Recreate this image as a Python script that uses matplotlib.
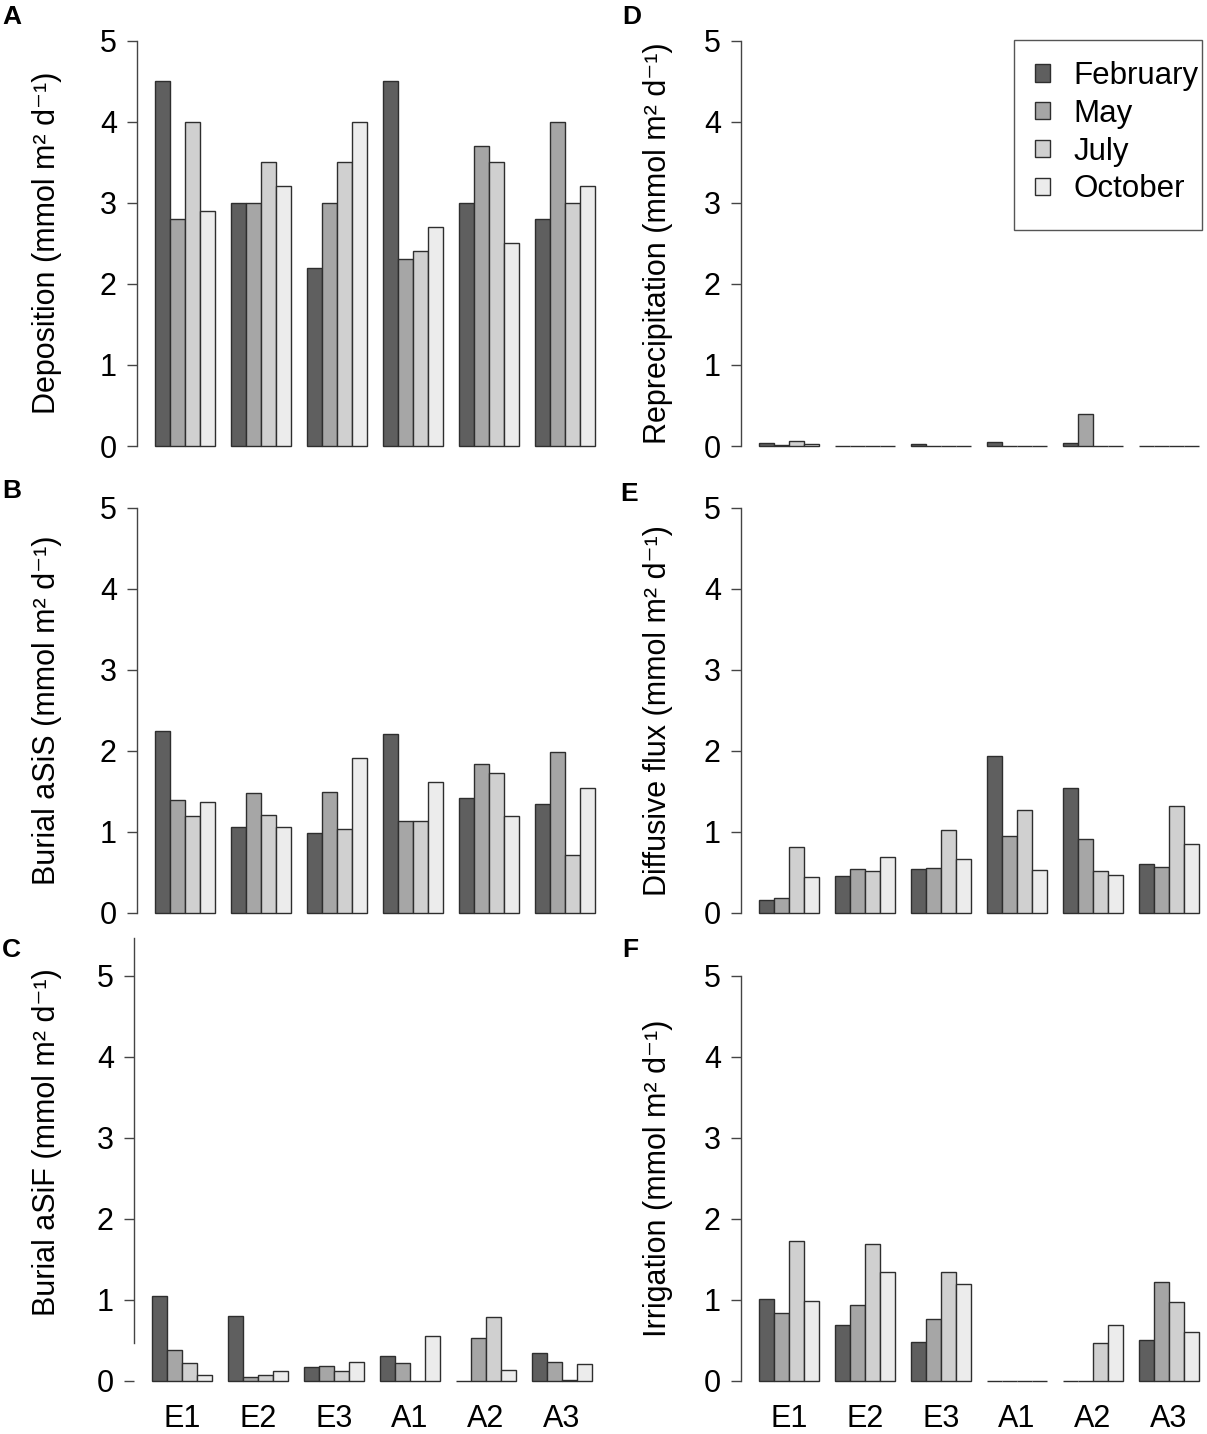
import matplotlib
matplotlib.use("Agg")
import matplotlib.pyplot as plt
from matplotlib.patches import Patch, Rectangle

plt.rcParams['font.family'] = ['Liberation Sans', 'DejaVu Sans']

sites = ["E1", "E2", "E3", "A1", "A2", "A3"]
months = ["February", "May", "July", "October"]
colors = ["#5f5f5f", "#a6a6a6", "#d0d0d0", "#ececec"]

# rows = sites, columns = months
deposition = [[4.5, 2.8, 4.0, 2.9],
              [3.0, 3.0, 3.5, 3.2],
              [2.2, 3.0, 3.5, 4.0],
              [4.5, 2.3, 2.4, 2.7],
              [3.0, 3.7, 3.5, 2.5],
              [2.8, 4.0, 3.0, 3.2]]
burial_asis = [[2.25, 1.39, 1.20, 1.37],
               [1.06, 1.48, 1.21, 1.06],
               [0.99, 1.49, 1.03, 1.91],
               [2.21, 1.14, 1.14, 1.62],
               [1.42, 1.84, 1.73, 1.20],
               [1.35, 1.99, 0.72, 1.54]]
burial_asif = [[1.05, 0.38, 0.22, 0.08],
               [0.80, 0.05, 0.08, 0.12],
               [0.17, 0.19, 0.12, 0.23],
               [0.31, 0.22, 0.0, 0.56],
               [0.0, 0.53, 0.79, 0.14],
               [0.35, 0.23, 0.01, 0.21]]
reprecipitation = [[0.033, 0.012, 0.06, 0.03],
                   [0.0, 0.0, 0.0, 0.0],
                   [0.02, 0.0, 0.0, 0.0],
                   [0.053, 0.0, 0.0, 0.0],
                   [0.04, 0.40, 0.0, 0.0],
                   [0.0, 0.0, 0.0, 0.0]]
diffusive = [[0.16, 0.18, 0.81, 0.44],
             [0.46, 0.54, 0.52, 0.69],
             [0.54, 0.56, 1.02, 0.67],
             [1.94, 0.95, 1.27, 0.53],
             [1.54, 0.91, 0.52, 0.47],
             [0.60, 0.57, 1.32, 0.85]]
irrigation = [[1.01, 0.84, 1.73, 0.99],
              [0.69, 0.94, 1.69, 1.35],
              [0.48, 0.76, 1.35, 1.19],
              [0.0, 0.0, 0.0, 0.0],
              [0.0, 0.0, 0.47, 0.69],
              [0.51, 1.22, 0.97, 0.61]]

W, H = 1207, 1434
fig = plt.figure(figsize=(W / 100, H / 100), dpi=100)

unit = "(mmol m² d⁻¹)"
SCALE = 81.1
AXW = 476


def make_ax(left_px, zero_px, ymax=5.2):
    ymin = -0.2
    top_px = zero_px - ymax * SCALE
    bot_px = zero_px - ymin * SCALE
    ax = fig.add_axes([left_px / W, 1 - bot_px / H, AXW / W, (bot_px - top_px) / H])
    ax.set_ylim(ymin, ymax)
    ax.set_xlim(-0.16, 31.16)
    return ax


def draw_panel(ax, data, ylabel, letter, pos, bottom=False, spine=(0, 5),
               label_x=-0.158, label_y=2.5):
    for j in range(len(months)):
        xs = [1 + 5 * g + j for g in range(len(sites))]
        hs = [row[j] for row in data]
        ax.bar(xs, hs, width=1, align='edge', color=colors[j],
               edgecolor='#2e2e2e', linewidth=1.0, label=months[j])
    for s in ['top', 'right', 'bottom']:
        ax.spines[s].set_visible(False)
    ax.spines['left'].set_bounds(*spine)
    ax.spines['left'].set_color('#444444')
    ax.spines['left'].set_linewidth(1.0)
    ax.set_yticks(range(6))
    ax.tick_params(axis='y', length=7.5, width=1.0, color='#444444', labelsize=22, pad=7)
    if bottom:
        ax.set_xticks([3 + 5 * g for g in range(len(sites))])
        ax.set_xticklabels(sites)
        ax.tick_params(axis='x', length=0, labelsize=22, pad=5)
    else:
        ax.set_xticks([])
    ax.set_ylabel(ylabel + " " + unit, fontsize=22)
    ax.yaxis.set_label_coords(label_x, ax.transLimits.transform((0, label_y))[1])
    fig.text(pos[0] / W, 1 - pos[1] / H, letter, fontsize=19, fontweight='bold',
             va='top', ha='left')


axA = make_ax(137, 446)
axB = make_ax(137, 913)
axC = make_ax(134, 1381, ymax=5.6)
axD = make_ax(741, 446)
axE = make_ax(741, 913)
axF = make_ax(741, 1381)

draw_panel(axA, deposition, "Deposition", "A", (2, 5))
draw_panel(axB, burial_asis, "Burial aSiS", "B", (2, 479))
draw_panel(axC, burial_asif, "Burial aSiF", "C", (2, 938), bottom=True,
           spine=(0.47, 5.46), label_x=-0.152, label_y=2.94)
draw_panel(axD, reprecipitation, "Reprecipitation", "D", (622, 5), label_x=-0.143)
draw_panel(axE, diffusive, "Diffusive flux", "E", (620, 482), label_x=-0.143)
draw_panel(axF, irrigation, "Irrigation", "F", (622, 938), bottom=True, label_x=-0.143)

handles = [Patch(facecolor=c, edgecolor='#2e2e2e', linewidth=1.0) for c in colors]
leg = axD.legend(handles, months, loc='upper left', bbox_to_anchor=(1014 / W, 1 - 40 / H),
                 bbox_transform=fig.transFigure, fontsize=22.5, frameon=False,
                 borderaxespad=0, borderpad=0.67, handlelength=0.48, handleheight=0.48,
                 handletextpad=0.74, labelspacing=0.25)
fig.patches.append(Rectangle((1014 / W, 1 - 230 / H), 188 / W, 190 / H, fill=False,
                             edgecolor='#555555', linewidth=1.0, transform=fig.transFigure,
                             figure=fig))

fig.savefig("out.png", dpi=100)
